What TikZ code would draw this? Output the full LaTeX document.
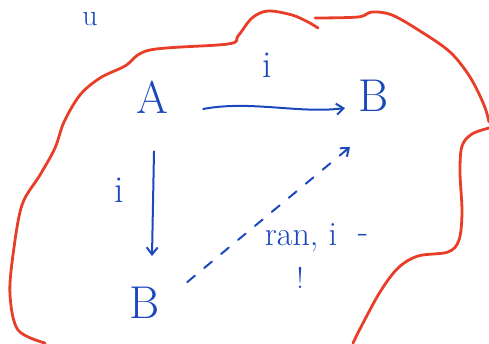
\documentclass[tikz,border=0pt]{standalone}
\usetikzlibrary{arrows.meta}
\definecolor{ink}{RGB}{28,72,190}
\definecolor{redink}{RGB}{232,62,40}
\begin{document}
\begin{tikzpicture}[x=1pt,y=-1pt,
  lbl/.style={text=ink,inner sep=0pt,font=\fontsize{#1}{#1}\selectfont},
  lbl/.default=46,
  arr/.style={draw=ink,line width=2pt,line cap=round,-{Straight Barb[length=7pt,width=11pt,line width=2pt]}},
  blob/.style={draw=redink,line width=2.8pt,line cap=round,line join=round}]
\useasboundingbox (0,0) rectangle (489,343);
% red outline
\draw[blob] plot[smooth,tension=0.55] coordinates {(45,343) (18,330) (10,295) (13,255) (22,205) (40,175) (55,148) (64,122) (80,95) (100,78) (125,66) (150,50) (228,44) (238,36) (252,18) (268,11) (292,15) (308,22) (318,28)};
\draw[blob] plot[smooth,tension=0.55] coordinates {(315,18) (358,17) (372,12) (392,15) (420,31) (450,52) (470,77) (484,105) (489,122)};
\draw[blob] plot[smooth,tension=0.55] coordinates {(489,128) (472,134) (462,146) (460,172) (462,212) (459,240) (448,252) (418,256) (398,268) (380,292) (362,325) (353,343)};
% labels and objects
\node[lbl=30] (u) at (90,19) {u};
\node[lbl] (A) at (152,97) {A};
\node[lbl] (B1) at (374,96) {B};
\node[lbl] (B2) at (145,303) {B};
\node[lbl=38] (i1) at (267,65) {i};
\node[lbl=38] (i2) at (119,190) {i};
\node[lbl=34] (ran) at (301,238) {ran, i};
\node[lbl=34] (dash) at (363,238) {-};
\node[lbl=30] (uniq) at (300,278) {!};
% arrows
\draw[arr] (A.east) ++(35,12) coordinate (a1) .. controls (250,100) and (300,114) .. (345,108);
\draw[arr] (A.south) ++(2,38) coordinate (a2) -- (152,256);
\draw[arr,dash pattern=on 10pt off 12pt] (B2.north east) ++(27,-5) coordinate (a3) -- (350,147);
\end{tikzpicture}
\end{document}
